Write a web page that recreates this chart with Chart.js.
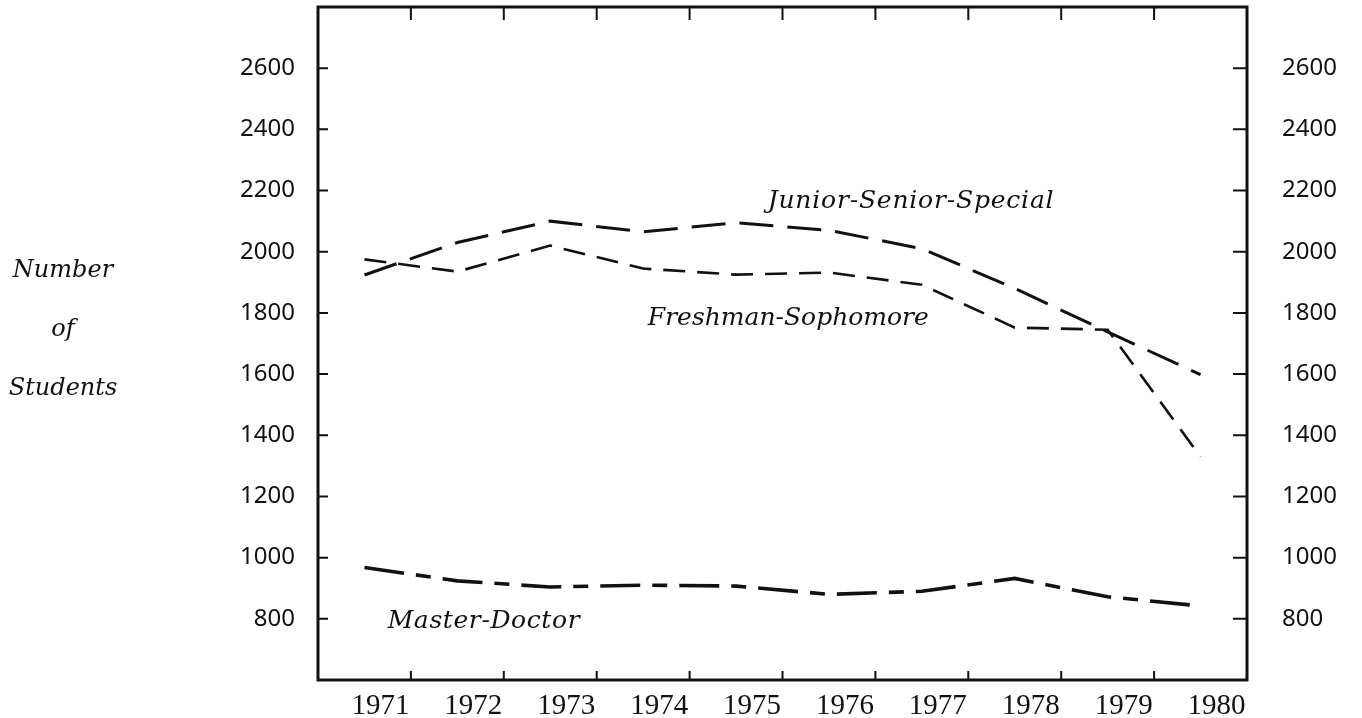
<!DOCTYPE html>
<html><head><meta charset="utf-8">
<script src="https://cdn.jsdelivr.net/npm/chart.js@4.4.1/dist/chart.umd.min.js"></script>
<style>html,body{margin:0;padding:0;background:#fff;} #wrap{width:1362px;height:718px;position:relative;}</style>
</head><body><div id="wrap"><canvas id="c" width="1362" height="718"></canvas></div>
<script>
const years = ['1971','1972','1973','1974','1975','1976','1977','1978','1979','1980'];
const juniorSeniorSpecial = [1924, 2030, 2100, 2065, 2095, 2070, 2010, 1880, 1738, 1598];
const freshmanSophomore   = [1975, 1935, 2020, 1945, 1925, 1932, 1892, 1752, 1745, 1330];
const masterDoctor        = [968, 924, 904, 910, 907, 880, 890, 932, 872, 842];
const yTickValues = [800, 1000, 1200, 1400, 1600, 1800, 2000, 2200, 2400, 2600];
const seriesNames = ['Junior-Senior-Special', 'Freshman-Sophomore', 'Master-Doctor'];
const axisTitleLines = ['Number', 'of', 'Students'];

// label anchors in data coordinates (category index, value)
const seriesLabelAnchors = [
  {text: seriesNames[0], xi: 4.34, v: 2142, spacing: '0.8px'},
  {text: seriesNames[1], xi: 3.05, v: 1761, spacing: '0px'},
  {text: seriesNames[2], xi: 0.25, v: 771, spacing: '0.6px'}
];

const INK = '#111';

const framePlugin = {
  id: 'frame',
  afterDraw(chart) {
    const {ctx, chartArea: a, scales} = chart;
    const x = scales.x, y = scales.y;
    ctx.save();
    ctx.strokeStyle = INK;
    ctx.lineWidth = 3;
    ctx.strokeRect(a.left, a.top, a.right - a.left, a.bottom - a.top);
    ctx.lineWidth = 2;
    ctx.beginPath();
    for (let i = 1; i < years.length; i++) {
      const px = (x.getPixelForValue(i - 1) + x.getPixelForValue(i)) / 2;
      ctx.moveTo(px, a.bottom); ctx.lineTo(px, a.bottom - 9);
      ctx.moveTo(px, a.top); ctx.lineTo(px, a.top + 13);
    }
    yTickValues.forEach(v => {
      const py = y.getPixelForValue(v);
      ctx.moveTo(a.left, py); ctx.lineTo(a.left + 10, py);
      ctx.moveTo(a.right - 14, py); ctx.lineTo(a.right, py);
    });
    ctx.stroke();

    ctx.fillStyle = INK;
    ctx.font = 'italic 25px "DejaVu Serif"';
    ctx.textBaseline = 'alphabetic';
    ctx.textAlign = 'left';
    seriesLabelAnchors.forEach(l => {
      if ('letterSpacing' in ctx) ctx.letterSpacing = l.spacing;
      const px = x.getPixelForValue(0) + l.xi * (x.getPixelForValue(1) - x.getPixelForValue(0));
      ctx.fillText(l.text, px, y.getPixelForValue(l.v));
    });
    if ('letterSpacing' in ctx) ctx.letterSpacing = '0px';
    ctx.font = 'italic 24px "DejaVu Serif"';
    ctx.textAlign = 'center';
    const baselines = [277, 336, 395];
    axisTitleLines.forEach((t, i) => ctx.fillText(t, 63, baselines[i]));
    ctx.restore();
  }
};

function yAxis(position, width, padding) {
  return {
    type: 'linear', position: position, min: 600, max: 2800,
    grid: {display: false, drawTicks: false},
    border: {display: false},
    afterBuildTicks: s => { s.ticks = yTickValues.map(v => ({value: v})); },
    afterFit: s => { s.width = width; s.paddingTop = 0; s.paddingBottom = 0; },
    ticks: {color: INK, font: {family: '"Noto Sans"', size: 24}, padding: padding,
            callback: v => String(v)}
  };
}

new Chart(document.getElementById('c'), {
  type: 'line',
  data: {
    labels: years,
    datasets: [
      {label: seriesNames[0], data: juniorSeniorSpecial, borderColor: INK, borderWidth: 3, borderDash: [34, 14], pointRadius: 0, tension: 0, fill: false},
      {label: seriesNames[1], data: freshmanSophomore, borderColor: INK, borderWidth: 2.6, borderDash: [22, 12], pointRadius: 0, tension: 0, fill: false},
      {label: seriesNames[2], data: masterDoctor, borderColor: INK, borderWidth: 3.6, borderDash: [40, 12, 15, 12], pointRadius: 0, tension: 0, fill: false}
    ]
  },
  options: {
    responsive: false,
    animation: false,
    layout: {autoPadding: false, padding: {top: 7, left: 0, right: 0, bottom: 0}},
    plugins: {legend: {display: false}, tooltip: {enabled: false}, title: {display: false}},
    scales: {
      x: {
        type: 'category', offset: true,
        grid: {display: false, drawTicks: false, offset: true},
        border: {display: false},
        afterFit: s => { s.height = 38; s.paddingLeft = 0; s.paddingRight = 0; },
        ticks: {color: INK, font: {family: '"Liberation Serif"', size: 29}, padding: 9, labelOffset: 16, maxRotation: 0, autoSkip: false}
      },
      y: yAxis('left', 318, 23),
      y2: yAxis('right', 115, 35)
    }
  },
  plugins: [framePlugin]
});
</script>
</body></html>
